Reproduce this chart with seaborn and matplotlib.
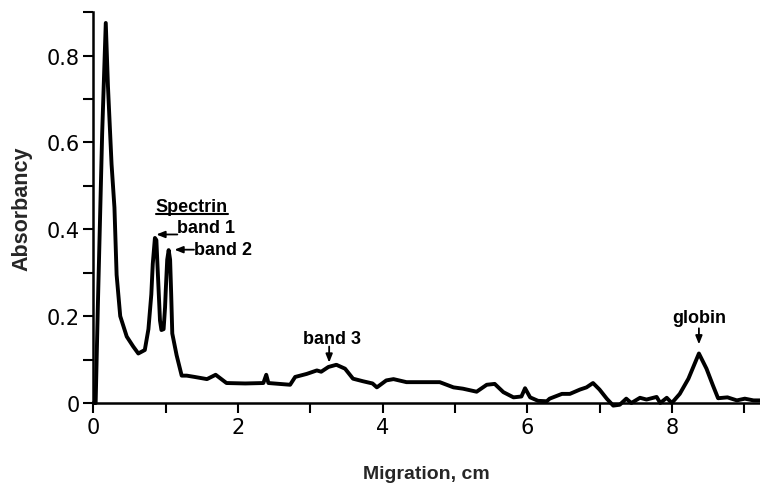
import numpy as np
import pandas as pd
import matplotlib
matplotlib.use("Agg")
import matplotlib.pyplot as plt
import seaborn as sns
from matplotlib.lines import Line2D

# densitometer trace
migration_cm = [0.0, 0.03, 0.06, 0.12, 0.17, 0.20, 0.25, 0.29, 0.32, 0.37,
                0.46, 0.55, 0.62, 0.71, 0.76, 0.80, 0.82, 0.85, 0.87, 0.89,
                0.92, 0.94, 0.97, 0.99, 1.00, 1.02, 1.04, 1.06, 1.075, 1.09,
                1.15, 1.22, 1.29, 1.40, 1.57,
                1.69, 1.84, 2.10, 2.35, 2.39, 2.42, 2.72, 2.79, 2.95, 3.09,
                3.15, 3.25, 3.36, 3.48, 3.59, 3.73, 3.86, 3.92, 4.05, 4.15,
                4.33, 4.61, 4.79, 4.98, 5.11, 5.30, 5.44, 5.55, 5.67, 5.81,
                5.92, 5.97, 6.04, 6.15, 6.27, 6.31, 6.48, 6.59, 6.73, 6.82,
                6.91, 7.00, 7.10, 7.19, 7.28, 7.37, 7.44, 7.56, 7.65, 7.79,
                7.84, 7.93, 8.00, 8.11, 8.23, 8.375, 8.48, 8.57, 8.64, 8.77,
                8.90, 9.01, 9.13, 9.22]
absorbancy = [0.0, 0.0, 0.22, 0.62, 0.875, 0.73, 0.55, 0.45, 0.295, 0.20,
              0.153, 0.13, 0.114, 0.122, 0.17, 0.25, 0.32, 0.38, 0.375, 0.30,
              0.19, 0.168, 0.17, 0.22, 0.26, 0.33, 0.352, 0.33, 0.25, 0.16,
              0.11, 0.063, 0.063, 0.06, 0.055,
              0.065, 0.046, 0.045, 0.046, 0.065, 0.046, 0.042, 0.06, 0.067, 0.075,
              0.072, 0.083, 0.088, 0.079, 0.056, 0.05, 0.045, 0.036, 0.052, 0.055,
              0.048, 0.048, 0.048, 0.036, 0.033, 0.026, 0.042, 0.044, 0.025, 0.013,
              0.015, 0.034, 0.013, 0.005, 0.004, 0.01, 0.021, 0.021, 0.031, 0.036,
              0.046, 0.031, 0.01, -0.006, -0.004, 0.01, 0.0, 0.012, 0.008, 0.014,
              0.0, 0.012, 0.0, 0.021, 0.056, 0.114, 0.079, 0.04, 0.011, 0.013,
              0.006, 0.01, 0.006, 0.006]

x_ticks = [0, 1, 2, 3, 4, 5, 6, 7, 8, 9]
x_labels = ["0", "", "2", "", "4", "", "6", "", "8", ""]
y_ticks = [0, 0.1, 0.2, 0.3, 0.4, 0.5, 0.6, 0.7, 0.8, 0.9]
y_labels = ["0", "", "0.2", "", "0.4", "", "0.6", "", "0.8", ""]

df = pd.DataFrame({"Migration": migration_cm, "Absorbancy": absorbancy})

sns.set_style("ticks")
plt.rcParams["font.family"] = ["DejaVu Sans"]

fig = plt.figure(figsize=(7.6, 4.85), dpi=100)
ax = fig.add_axes([0.123, 0.167, 0.877, 0.806])

sns.lineplot(data=df, x="Migration", y="Absorbancy", color="black",
             linewidth=2.8, ax=ax, clip_on=False, sort=False)

ax.set_xlim(0, 9.22)
ax.set_ylim(0, 0.9)
ax.set_xticks(x_ticks)
ax.set_xticklabels(x_labels)
ax.set_yticks(y_ticks)
ax.set_yticklabels(y_labels)
ax.tick_params(axis="both", direction="out", length=7, width=1.5,
               colors="black", labelsize=15, pad=3)
for s in ["top", "right"]:
    ax.spines[s].set_visible(False)
for s in ["left", "bottom"]:
    ax.spines[s].set_linewidth(1.8)
    ax.spines[s].set_color("black")

ax.set_xlabel("Migration, cm", fontsize=14, fontweight="bold",
              family="Liberation Sans", labelpad=20)
ax.set_ylabel("Absorbancy", fontsize=15.5, fontweight="bold",
              family="Liberation Sans", labelpad=10)

afont = dict(fontsize=13, fontweight="bold", family="Liberation Sans", color="black")
arrow = dict(arrowstyle="-|>,head_length=0.5,head_width=0.2", color="black", lw=1.3,
             shrinkA=0, shrinkB=0)

spec = ax.text(1.36, 0.453, "Spectrin", ha="center", va="center", **afont)

ax.annotate("", xy=(0.87, 0.388), xytext=(1.16, 0.388), arrowprops=arrow)
ax.text(1.15, 0.385, "band 1", ha="left", va="bottom", **afont)

ax.annotate("", xy=(1.12, 0.353), xytext=(1.39, 0.353), arrowprops=arrow)
ax.text(1.39, 0.353, "band 2", ha="left", va="center", **afont)

ax.annotate("", xy=(3.26, 0.093), xytext=(3.26, 0.13), arrowprops=arrow)
ax.text(3.30, 0.149, "band 3", ha="center", va="center", **afont)

ax.annotate("", xy=(8.375, 0.135), xytext=(8.375, 0.172), arrowprops=arrow)
ax.text(8.375, 0.198, "globin", ha="center", va="center", **afont)

# underline for "Spectrin"
fig.canvas.draw()
bb = spec.get_window_extent().transformed(fig.transFigure.inverted())
fig.add_artist(Line2D([bb.x0, bb.x1], [bb.y0 + 0.002, bb.y0 + 0.002],
                      transform=fig.transFigure, color="black", lw=1.5))

fig.savefig("out.png", dpi=100)
